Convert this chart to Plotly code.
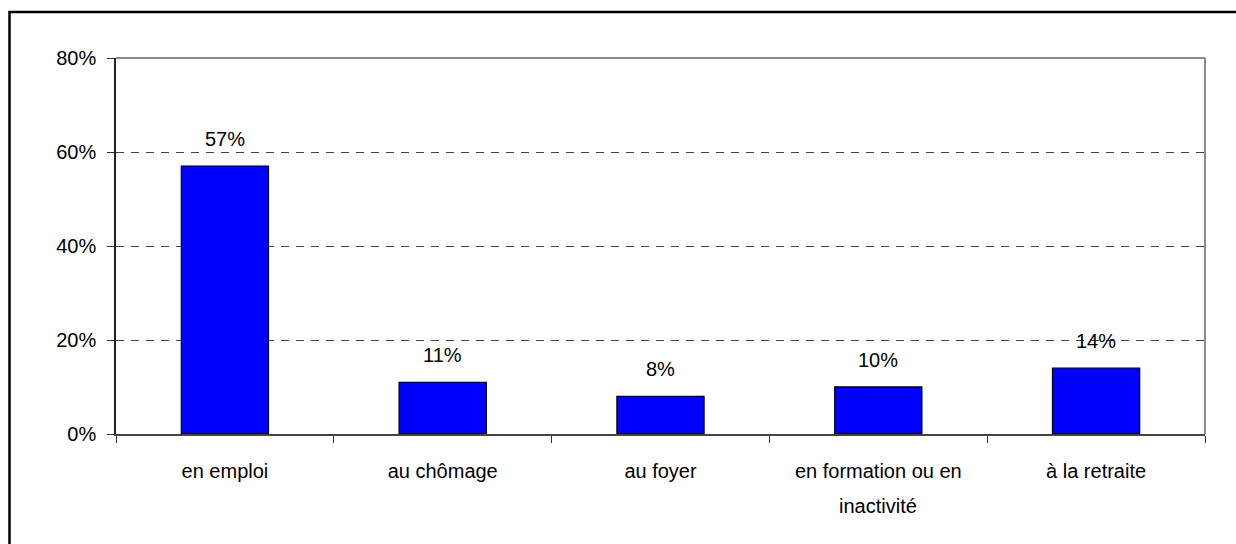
import plotly.graph_objects as go

categories = ["en emploi", "au chômage", "au foyer", "en formation ou en inactivité", "à la retraite"]
tick_first_lines = ["en emploi", "au chômage", "au foyer", "en formation ou en", "à la retraite"]
tick_second_lines = ["", "", "", "inactivité", ""]
values = [57, 11, 8, 10, 14]
value_labels = ["57%", "11%", "8%", "10%", "14%"]
y_ticks = [0, 20, 40, 60, 80]
y_tick_labels = ["0%", "20%", "40%", "60%", "80%"]

FONT = "Liberation Sans, Arial, sans-serif"
W, H = 1236, 544
L, R, T, B = 116, 31, 57.5, 110
pw, ph = W - L - R, H - T - B

fig = go.Figure()
fig.add_trace(go.Bar(
    x=categories, y=values, width=0.4,
    marker=dict(color="#0000FF", line=dict(color="#000000", width=1.3)),
    hoverinfo="skip",
))

annotations = []
for c, v, t in zip(categories, values, value_labels):
    annotations.append(dict(x=c, y=v, xref="x", yref="y", text=t, showarrow=False,
                            yanchor="bottom", yshift=14,
                            font=dict(family=FONT, size=20, color="#000000")))
for c, t in zip(categories, tick_second_lines):
    if t:
        annotations.append(dict(x=c, y=0, xref="x", yref="y", text=t, showarrow=False,
                                yanchor="middle", yshift=-71.5,
                                font=dict(family=FONT, size=20, color="#000000")))

shapes = [
    dict(type="line", xref="paper", yref="paper", x0=0, x1=1, y0=1, y1=1,
         line=dict(color="#8a8a8a", width=2)),
    dict(type="line", xref="paper", yref="paper", x0=1, x1=1, y0=0, y1=1,
         line=dict(color="#8a8a8a", width=2)),
    dict(type="rect", xref="paper", yref="paper",
         x0=(9.5 - L) / pw, x1=(W + 20 - L) / pw,
         y0=-(B + 20) / ph, y1=(H - B - 11.5) / ph,
         line=dict(color="#000000", width=2.5), fillcolor="rgba(0,0,0,0)", layer="above"),
]

fig.update_layout(
    width=W, height=H,
    margin=dict(l=L, r=R, t=T, b=B, pad=0),
    paper_bgcolor="white", plot_bgcolor="white",
    showlegend=False,
    font=dict(family=FONT, size=20, color="#000000"),
    xaxis=dict(
        type="category", tickson="boundaries", ticks="outside", ticklen=7,
        tickcolor="#333333", tickwidth=1.3,
        tickvals=categories, ticktext=tick_first_lines,
        showline=True, linecolor="#444444", linewidth=2,
        showgrid=False, zeroline=False,
        tickfont=dict(family=FONT, size=20, color="#000000"),
        ticklabelstandoff=18,
        range=[-0.5, 4.5],
    ),
    yaxis=dict(
        range=[0, 80], tickvals=y_ticks, ticktext=y_tick_labels,
        ticks="outside", ticklen=7, tickcolor="#333333", tickwidth=1.3,
        showline=True, linecolor="#222222", linewidth=1.5,
        showgrid=True, gridcolor="#444444", gridwidth=1, griddash="8px,7px",
        zeroline=False,
        tickfont=dict(family=FONT, size=20, color="#000000"),
        ticklabelstandoff=7,
    ),
    annotations=annotations,
    shapes=shapes,
)

fig.write_html("out.html", config={"displayModeBar": False},
               post_script="document.body.style.margin='0px';document.body.style.overflow='hidden';")
